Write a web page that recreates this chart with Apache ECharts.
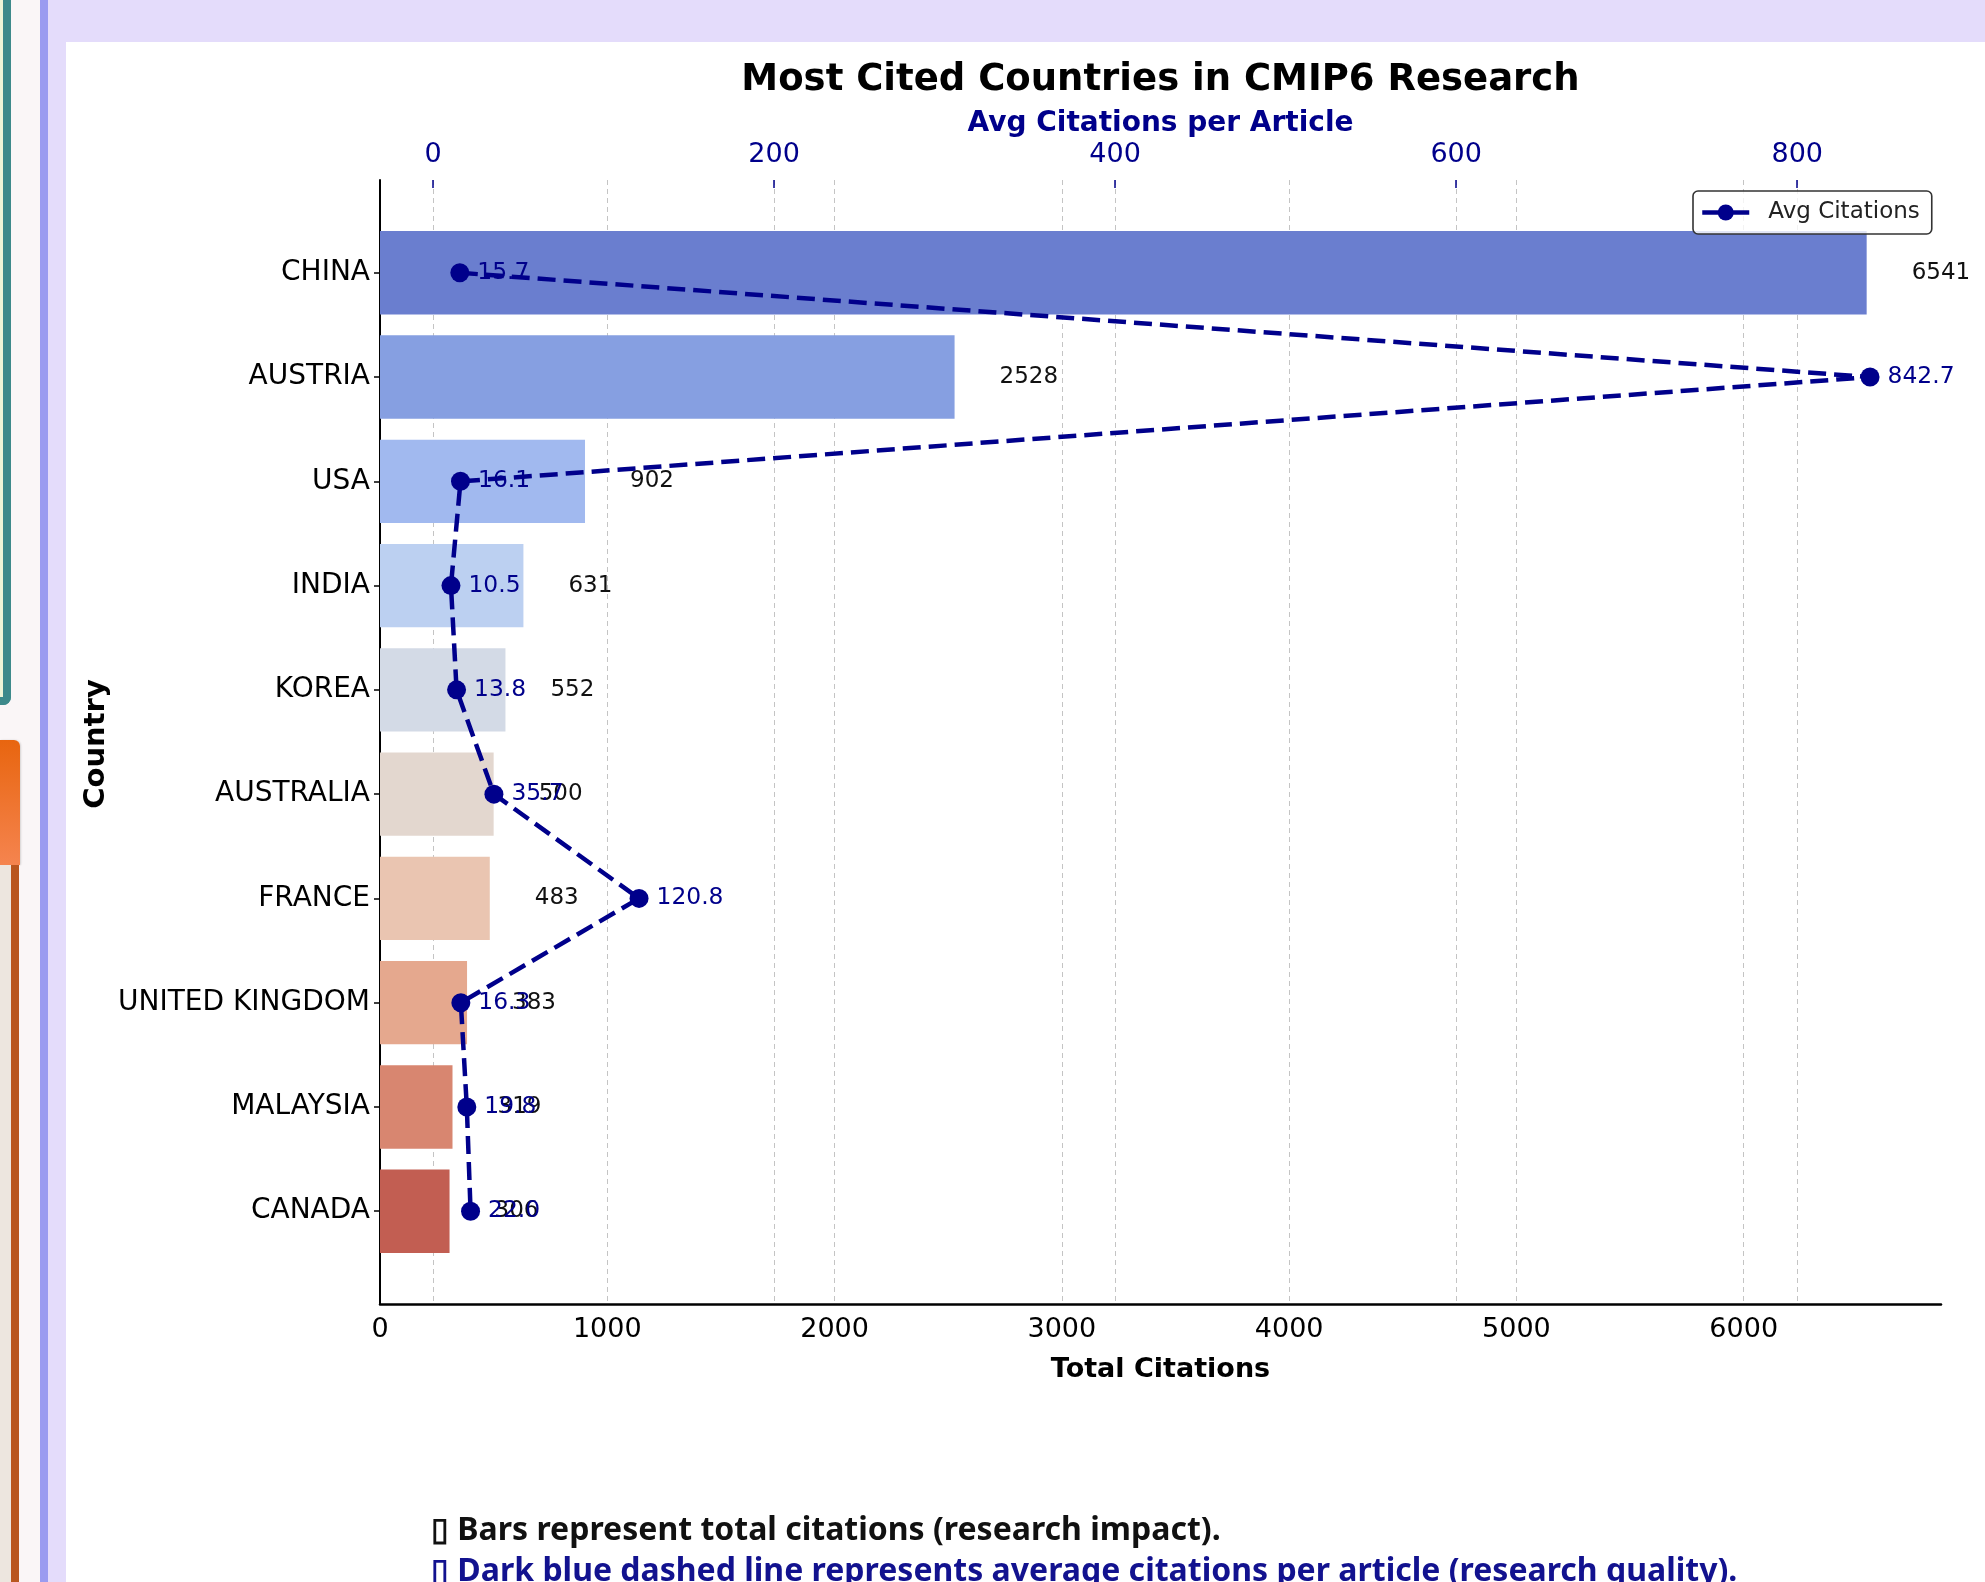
<!DOCTYPE html>
<html>
<head>
<meta charset="utf-8">
<title>Most Cited Countries in CMIP6 Research</title>
<script src="https://cdn.jsdelivr.net/npm/echarts@6/dist/echarts.min.js"></script>
<style>
  html, body { margin: 0; padding: 0; width: 1985px; height: 1582px; overflow: hidden; background: #faf6f7; }
  .abs { position: absolute; }
  #chart { position: absolute; left: 0; top: 0; width: 1985px; height: 1582px; z-index: 5; }
</style>
</head>
<body>
<!-- app chrome around the chart card -->
<div class="abs" style="left:-20px;top:-10px;width:31px;height:715px;background:#eef5d8;border-right:8px solid #3d8a8b;border-bottom:8px solid #3d8a8b;border-radius:0 0 8px 0;box-sizing:border-box;"></div>
<div class="abs" style="left:0;top:740px;width:20px;height:125px;background:linear-gradient(#e8650f,#f5844f);border-radius:0 6px 0 0;box-shadow:1px 0 2px rgba(0,0,0,0.15);"></div>
<div class="abs" style="left:0;top:865px;width:11px;height:717px;background:#ede6df;"></div>
<div class="abs" style="left:11px;top:865px;width:8px;height:717px;background:#b9561f;"></div>
<div class="abs" style="left:40px;top:0;width:8px;height:1582px;background:#9a9bf0;"></div>
<div class="abs" style="left:48px;top:0;width:18px;height:1582px;background:#e4dcfb;"></div>
<div class="abs" style="left:48px;top:0;width:1937px;height:42px;background:#e4dcfb;"></div>
<div class="abs" style="left:66px;top:42px;width:1919px;height:1540px;background:#ffffff;"></div>
<div id="chart"></div>
<script>
// ---- data ----
const countries = ['CHINA', 'AUSTRIA', 'USA', 'INDIA', 'KOREA', 'AUSTRALIA', 'FRANCE', 'UNITED KINGDOM', 'MALAYSIA', 'CANADA'];
const totalCitations = [6541, 2528, 902, 631, 552, 500, 483, 383, 319, 306];
const avgCitations = [15.7, 842.7, 16.1, 10.5, 13.8, 35.7, 120.8, 16.3, 19.8, 22.0];
const totalTicks = [0, 1000, 2000, 3000, 4000, 5000, 6000];
const avgTicks = [0, 200, 400, 600, 800];

// coolwarm ramp, blue (most cited) to red
const barColors = ['#6a7ecf', '#869fe1', '#a1b9ef', '#bcd0f1', '#d3dae6', '#e3d7cf', '#eac5b1', '#e5a88e', '#d88670', '#c25e52'];

// axis extents with a 5% margin, matplotlib style
const totalMax = Math.max(...totalCitations) * 1.05;
const avgLo = Math.min(...avgCitations), avgHi = Math.max(...avgCitations);
const avgPad = (avgHi - avgLo) * 0.05;
const avgMin = avgLo - avgPad, avgMax = avgHi + avgPad;

// plot frame
const PL = 380, PT = 180, PW = 1561, PH = 1124;
// bars sit from -0.4 to n-0.6 in index units, plus a 5% margin
const n = countries.length;
const span = (n - 1 + 0.8) * 1.1;
const band = PH / span;
const inset = (span - n) / 2 * band;

const FONT = "'DejaVu Sans', sans-serif";
const NAVY = '#00008B';
const gridLine = { show: true, lineStyle: { color: '#c4c4c4', type: [5, 4], width: 1 } };

const chart = echarts.init(document.getElementById('chart'), null, { renderer: 'canvas' });

chart.setOption({
  backgroundColor: 'transparent',
  animation: false,
  textStyle: { fontFamily: FONT },
  grid: [
    { left: PL, top: PT, width: PW, height: PH, containLabel: false },
    { left: PL, top: PT + inset, width: PW, height: PH - 2 * inset, containLabel: false }
  ],
  xAxis: [
    { // Total Citations (visible, full frame)
      gridIndex: 0, type: 'value', position: 'bottom', min: 0, max: totalMax,
      axisLine: { show: true, lineStyle: { color: '#000', width: 2.5 } },
      axisTick: { show: false, customValues: totalTicks },
      axisLabel: { customValues: totalTicks, color: '#000', fontSize: 27, fontFamily: FONT, margin: 12,
                   formatter: v => String(v) },
      splitLine: gridLine
    },
    { // Avg citations per article (visible, full frame)
      gridIndex: 0, type: 'value', position: 'top', min: avgMin, max: avgMax,
      axisLine: { show: false },
      axisTick: { show: true, inside: true, length: 8, customValues: avgTicks, lineStyle: { color: NAVY, width: 1.5 } },
      axisLabel: { customValues: avgTicks, color: NAVY, fontSize: 27, fontFamily: FONT, margin: 12,
                   formatter: v => String(v) },
      splitLine: gridLine
    },
    { gridIndex: 1, type: 'value', position: 'bottom', min: 0, max: totalMax, show: false },
    { gridIndex: 1, type: 'value', position: 'top', min: avgMin, max: avgMax, show: false }
  ],
  yAxis: [
    { // left spine
      gridIndex: 0, type: 'value', min: 0, max: 1,
      axisLine: { show: true, lineStyle: { color: '#000', width: 2 } },
      axisTick: { show: false }, axisLabel: { show: false }, splitLine: { show: false }
    },
    { // countries
      gridIndex: 1, type: 'category', inverse: true, data: countries,
      axisLine: { show: false },
      axisTick: { show: true, alignWithLabel: true, length: 6, lineStyle: { color: '#000', width: 1.5 } },
      axisLabel: { color: '#000', fontSize: 28, fontFamily: FONT, margin: 10 },
      splitLine: { show: false }
    }
  ],
  legend: {
    data: ['Avg Citations'],
    left: 1693, top: 191,
    orient: 'horizontal',
    backgroundColor: 'rgba(255,255,255,0.8)',
    borderColor: '#333', borderWidth: 1.6, borderRadius: 5,
    padding: [10, 12, 10, 7],
    itemWidth: 47, itemHeight: 20,
    lineStyle: { width: 4.5, type: 'solid' },
    textStyle: { color: '#222', fontSize: 23, fontFamily: FONT, padding: [0, 0, 0, 14] }
  },
  series: [
    {
      name: 'Total Citations', type: 'bar',
      xAxisIndex: 2, yAxisIndex: 1,
      barWidth: '80%',
      data: totalCitations.map((v, i) => ({ value: v, itemStyle: { color: barColors[i] } })),
      label: {
        show: true, position: 'right', distance: 45,
        color: '#111', fontSize: 23, fontFamily: FONT,
        formatter: p => String(p.value)
      },
      z: 2
    },
    {
      name: 'Avg Citations', type: 'line',
      xAxisIndex: 3, yAxisIndex: 1,
      data: avgCitations.map((v, i) => [v, countries[i]]),
      encode: { x: 0, y: 1 },
      color: NAVY,
      lineStyle: { color: NAVY, width: 4.5, type: [18, 8] },
      symbol: 'circle', symbolSize: 19,
      itemStyle: { color: NAVY },
      label: {
        show: true, position: 'right', distance: 8,
        color: NAVY, fontSize: 23.4, fontFamily: FONT,
        formatter: p => p.value[0].toFixed(1)
      },
      z: 3
    }
  ],
  graphic: [
    { type: 'text', x: PL + PW / 2, y: 80,
      style: { text: 'Most Cited Countries in CMIP6 Research', fill: '#000', font: "bold 37px 'DejaVu Sans'", textAlign: 'center', textVerticalAlign: 'middle', align: 'center', verticalAlign: 'middle' } },
    { type: 'text', x: PL + PW / 2, y: 124,
      style: { text: 'Avg Citations per Article', fill: NAVY, font: "bold 28px 'DejaVu Sans'", textAlign: 'center', textVerticalAlign: 'middle', align: 'center', verticalAlign: 'middle' } },
    { type: 'text', x: PL + PW / 2, y: 1370,
      style: { text: 'Total Citations', fill: '#000', font: "bold 27px 'DejaVu Sans'", textAlign: 'center', textVerticalAlign: 'middle', align: 'center', verticalAlign: 'middle' } },
    { type: 'text', x: 96, y: 744, rotation: Math.PI / 2,
      style: { text: 'Country', fill: '#000', font: "bold 29px 'DejaVu Sans'", textAlign: 'center', textVerticalAlign: 'middle', align: 'center', verticalAlign: 'middle' } },
    { type: 'text', x: 431, y: 1531,
      style: { text: '\u25AF Bars represent total citations (research impact).', fill: '#111', font: "bold 32px 'Noto Sans'", textAlign: 'left', textVerticalAlign: 'middle', align: 'left', verticalAlign: 'middle' } },
    { type: 'text', x: 431, y: 1572,
      style: { text: '\u25AF Dark blue dashed line represents average citations per article (research quality).', fill: '#12128f', font: "bold 32px 'Noto Sans'", textAlign: 'left', textVerticalAlign: 'middle', align: 'left', verticalAlign: 'middle' } }
  ]
});
</script>
</body>
</html>
